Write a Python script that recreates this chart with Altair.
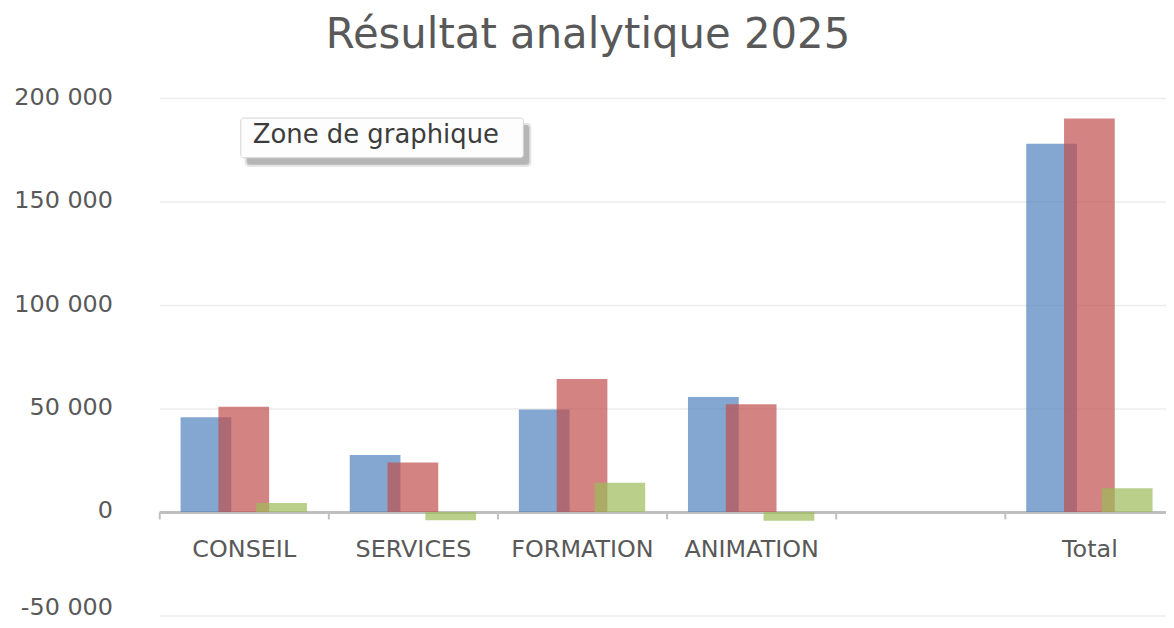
import altair as alt
import pandas as pd

title_text = "Résultat analytique 2025"
categories = ["CONSEIL", "SERVICES", "FORMATION", "ANIMATION", " ", "Total"]
series_names = ["Série 1", "Série 2", "Série 3"]
blue_values = [45800, 27500, 49500, 55600, None, 178000]
red_values = [50800, 23900, 64300, 52100, None, 190200]
green_values = [4300, -4000, 14100, -4200, None, 11500]
y_ticks = [-50000, 0, 50000, 100000, 150000, 200000]

colors = ["#4F81BD", "#C0504D", "#9BBB59"]
offsets = [-38, 0, 38]

rows = []
for s, vals in zip(series_names, [blue_values, red_values, green_values]):
    for c, v in zip(categories, vals):
        if v is not None:
            rows.append({"cat": c, "serie": s, "val": v})
df = pd.DataFrame(rows)

W, H = 1012, 520
FONT = "DejaVu Sans"
GREY = "#595959"

x_enc = alt.X(
    "cat:N",
    sort=categories,
    scale=alt.Scale(domain=categories, paddingInner=0, paddingOuter=0, range=[0, 1020]),
    axis=alt.Axis(
        title=None,
        offset=-104,
        labelFont=FONT,
        labelFontSize=24,
        labelColor=GREY,
        labelPadding=19,
        labelAngle=0,
        domainColor="#bfbfbf",
        domainWidth=3,
        tickColor="#bfbfbf",
        tickWidth=2,
        tickSize=7,
        tickBand="extent",
        grid=False,
    ),
)
y_enc = alt.Y(
    "val:Q",
    scale=alt.Scale(domain=[-50000, 200000], nice=False),
    axis=alt.Axis(
        title=None,
        values=y_ticks,
        labelExpr="replace(replace(format(datum.value, ',d'), ',', ' '), '\u2212', '-')",
        labelFont=FONT,
        labelFontSize=24,
        labelColor=GREY,
        labelPadding=47,
        labelOffset={"condition": {"test": "datum.value < 0", "value": -8}, "value": -1},
        ticks=False,
        domain=False,
        gridColor="#ececec",
        gridWidth=1.5,
    ),
)

layers = []
for s, col, off in zip(series_names, colors, offsets):
    layers.append(
        alt.Chart(df)
        .transform_filter(alt.datum.serie == s)
        .mark_bar(color=col, opacity=0.7, width=51, xOffset=off)
        .encode(x=x_enc, y=y_enc)
    )

# Chart title drawn as text
tdf = pd.DataFrame({"t": [title_text]})
title = alt.Chart(tdf).mark_text(
    font=FONT, fontSize=42, color=GREY, align="center", baseline="alphabetic"
).encode(text="t:N", x=alt.value(431), y=alt.value(-50))

# Screenshot tooltip annotation ("Zone de graphique")
ann = pd.DataFrame({"t": ["Zone de graphique"]})
shadow2 = alt.Chart(ann).mark_rect(color="#b0b0b0", opacity=0.35, cornerRadius=4).encode(
    x=alt.value(86), x2=alt.value(374), y=alt.value(25), y2=alt.value(69)
)
shadow = alt.Chart(ann).mark_rect(color="#8a8a8a", opacity=0.5, cornerRadius=3).encode(
    x=alt.value(88), x2=alt.value(372), y=alt.value(27), y2=alt.value(67)
)
box = alt.Chart(ann).mark_rect(color="#fdfdfd", stroke="#d4d4d4", strokeWidth=1, cornerRadius=3).encode(
    x=alt.value(82), x2=alt.value(366), y=alt.value(20), y2=alt.value(60)
)
label = alt.Chart(ann).mark_text(
    font=FONT, fontSize=26, color="#3c3c3c", align="left", baseline="alphabetic"
).encode(text="t:N", x=alt.value(94), y=alt.value(45))

chart = (
    alt.layer(*layers, shadow2, shadow, box, label, title)
    .properties(
        width=W,
        height=H,
        autosize=alt.AutoSizeParams(type="none"),
        padding={"left": 152, "top": 89, "right": 0, "bottom": 3},
    )
    .configure_view(stroke=None)
)

chart.save("out.html", embed_options={"renderer": "svg", "actions": False})
